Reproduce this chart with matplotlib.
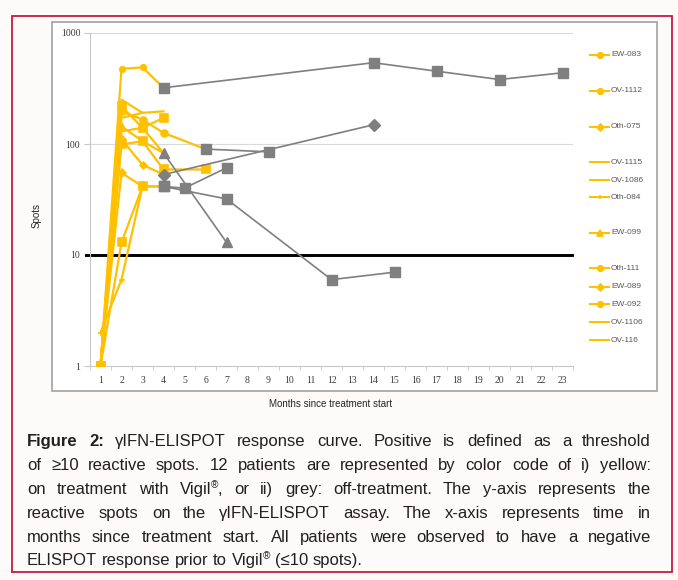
import matplotlib
matplotlib.use('Agg')
import matplotlib.pyplot as plt
from matplotlib.lines import Line2D
from matplotlib.patches import Rectangle

W, H = 678, 580
YEL = '#FFC000'
GREY = '#7F7F7F'
SANS = ['Liberation Sans', 'DejaVu Sans']
SERIF = ['Liberation Serif', 'DejaVu Serif']

# ---------------- data (months since start, reactive spots) ----------------
m_ew083 = [1, 2, 3, 4, 6];              v_ew083 = [1, 99, 106, 59, 59]
m_ov1112 = [1, 2, 3, 4, 6, 9];          v_ov1112 = [1, 197, 166, 126, 90, 85]
m_oth075 = [1, 2, 3, 4, 14, 17, 20, 23]; v_oth075 = [1, 476, 490, 321, 540, 453, 381, 438]
m_ov1115 = [1, 2, 3, 4];                v_ov1115 = [1, 251, 191, 197]
m_ov1086 = [1, 2, 3, 4];                v_ov1086 = [1, 130, 140, 83]
m_oth084 = [1, 2, 3, 4, 14];            v_oth084 = [1, 110, 65, 53, 149]
m_ew099 = [1, 2, 3, 4, 7];              v_ew099 = [1, 144, 106, 83, 13]
m_oth111 = [1, 2, 3, 4];                v_oth111 = [1, 219, 140, 172]
m_ew089 = [1, 2, 3, 4, 5, 7];           v_ew089 = [1, 55, 41.5, 41.5, 40, 61]
m_ew092 = [1, 2, 3, 4, 7, 12, 15];      v_ew092 = [1, 13, 41.5, 41.5, 32, 6, 7]
m_ov1106 = [1, 2, 3];                   v_ov1106 = [1, 172, 191]
m_ov116 = [1, 2, 3];                    v_ov116 = [2, 6, 41.5]

# index of first off-treatment (grey) point, None = on treatment throughout
off_ew083, off_ov1112, off_oth075, off_ov1115 = None, 4, 3, None
off_ov1086, off_oth084, off_ew099, off_oth111 = None, 3, 3, None
off_ew089, off_ew092, off_ov1106, off_ov116 = 3, 3, None, None

legend_names = ['EW-083', 'OV-1112', 'Oth-075', 'OV-1115', 'OV-1086', 'Oth-084',
                'EW-099', 'Oth-111', 'EW-089', 'EW-092', 'OV-1106', 'OV-116']
legend_markers = ['o', 'o', 'D', '', '', '+', '^', 'o', 'D', 'o', '', '']

threshold = 10
x_ticks = list(range(1, 24))
y_ticks = [1, 10, 100, 1000]
y_ticklabels = ['1', '10', '100', '1000']

series = [
    # months, values, off index, yellow marker, yellow ms, grey marker
    (m_ew083, v_ew083, off_ew083, 's', 5.5, 's'),
    (m_ov1112, v_ov1112, off_ov1112, 'o', 5, 's'),
    (m_oth075, v_oth075, off_oth075, 'o', 4, 's'),
    (m_ov1115, v_ov1115, off_ov1115, '', 0, ''),
    (m_ov1086, v_ov1086, off_ov1086, '', 0, ''),
    (m_oth084, v_oth084, off_oth084, 'D', 3.5, 'D'),
    (m_ew099, v_ew099, off_ew099, '^', 4, '^'),
    (m_oth111, v_oth111, off_oth111, 's', 5.5, 's'),
    (m_ew089, v_ew089, off_ew089, 'D', 4, 's'),
    (m_ew092, v_ew092, off_ew092, 's', 5.5, 's'),
    (m_ov1106, v_ov1106, off_ov1106, '', 0, ''),
    (m_ov116, v_ov116, off_ov116, '+', 5, ''),
]

# ---------------- figure ----------------
fig = plt.figure(figsize=(W / 100, H / 100), dpi=100, facecolor='#fdfafa')

def fx(px):
    return px / W

def fy(py):
    return 1 - py / H

# outer crimson frame and chart box (behind the axes)
fig.patches.append(Rectangle((fx(12), fy(572)), (672 - 12) / W, (572 - 16) / H,
                             transform=fig.transFigure, fc='none', ec='#c8173f', lw=1.3, zorder=-10))
fig.patches.append(Rectangle((fx(52), fy(391)), (657 - 52) / W, (391 - 22) / H,
                             transform=fig.transFigure, fc='white', ec='#a8a8a8', lw=1.3, zorder=-9))

ax = fig.add_axes([fx(90), fy(366), (573 - 90) / W, (366 - 33) / H])
ax.set_zorder(1)
ax.set_facecolor('none')
ax.set_yscale('log')
ax.set_ylim(1, 1000)
ax.set_xlim(0.5, 23.5)

for s in ['top', 'right']:
    ax.spines[s].set_visible(False)
for s in ['left', 'bottom']:
    ax.spines[s].set_color('#c8c8c8')
    ax.spines[s].set_linewidth(0.8)

ax.set_yticks(y_ticks)
ax.set_yticklabels(y_ticklabels, family=SERIF, fontsize=7, color='#3a3a3a')
ax.yaxis.set_minor_locator(matplotlib.ticker.NullLocator())
ax.tick_params(axis='y', length=4, color='#c8c8c8', pad=3)
ax.set_xticks(x_ticks)
ax.set_xticklabels([str(t) for t in x_ticks], family=SERIF, fontsize=7, color='#3a3a3a')
ax.set_xticks([t + 0.5 for t in range(0, 24)], minor=True)
ax.tick_params(axis='x', which='major', length=0, pad=7)
ax.tick_params(axis='x', which='minor', length=3, color='#c8c8c8')

for yv in [100, 1000]:
    ax.axhline(yv, color='#d9d9d9', lw=0.8, zorder=1)

ax.plot([0.3, 23.45], [threshold, threshold], color='black', lw=2.1, clip_on=False, zorder=2)

# series
for m, v, off, ym, yms, gm in series:
    end = len(m) if off is None else off + 1
    k = len(m) if off is None else off
    ax.plot(m[:end], v[:end], color=YEL, lw=1.6, zorder=3, solid_joinstyle='round')
    if ym:
        ax.plot(m[:k], v[:k], ls='none', marker=ym, ms=yms, color=YEL,
                mec=YEL, mew=1.2, zorder=3)
for m, v, off, ym, yms, gm in series:
    if off is not None:
        ax.plot(m[off:], v[off:], color=GREY, lw=1.2, zorder=4)
        ax.plot(m[off:], v[off:], ls='none', marker=gm, ms=6.5, color=GREY,
                mec=GREY, zorder=5)

# axis titles
fig.text(fx(37), fy(215), 'Spots', rotation=90, fontsize=7, family=SANS,
         ha='center', va='center', color='#262626')
fig.text(fx(331), fy(404), 'Months since treatment start', fontsize=7, family=SANS,
         ha='center', va='center', color='#262626')

# legend (manual, Excel style)
leg_y = [55, 91, 126.5, 162, 180, 197.5, 232.5, 268, 286.5, 304, 322, 340]
for name, mk, ly in zip(legend_names, legend_markers, leg_y):
    ln = Line2D([fx(590), fx(599.5), fx(609)], [fy(ly)] * 3, transform=fig.transFigure,
                color=YEL, lw=1.5, marker=mk if mk else None, markevery=[1],
                ms=4 if mk in ('o', '^') else 3.5, mew=1.2, mec=YEL, mfc=YEL)
    fig.lines.append(ln)
    fig.text(fx(611), fy(ly), name, fontsize=6, family=SANS, ha='left', va='center',
             color='#595959')

# ---------------- caption (justified) ----------------
cap_lines = [
    "Figure 2: γIFN-ELISPOT response curve. Positive is defined as a threshold",
    "of ≥10 reactive spots. 12 patients are represented by color code of i) yellow:",
    "on treatment with Vigil®, or ii) grey: off-treatment. The y-axis represents the",
    "reactive spots on the γIFN-ELISPOT assay. The x-axis represents time in",
    "months since treatment start. All patients were observed to have a negative",
    "ELISPOT response prior to Vigil® (≤10 spots).",
]
cap_baselines = [446, 470, 494, 518, 542, 565]
CAP_SIZE = 12.0
CAP_L, CAP_R = 27, 651
CAP_COLOR = '#231f20'

renderer = fig.canvas.get_renderer()

def measure(txt, weight, size):
    t = fig.text(0, 0, txt, fontsize=size, weight=weight, family=SANS)
    w = t.get_window_extent(renderer).width
    t.remove()
    return w

space_w = measure('a a', 'normal', CAP_SIZE) - measure('aa', 'normal', CAP_SIZE)

def word_segments(word, bold):
    segs = []
    parts = word.split('®')
    for i, p in enumerate(parts):
        if p:
            segs.append((p, 'bold' if bold else 'normal', CAP_SIZE, 0))
        if i < len(parts) - 1:
            segs.append(('®', 'normal', CAP_SIZE * 0.6, -5.5))
    return segs

for li, (line, base) in enumerate(zip(cap_lines, cap_baselines)):
    words = line.split(' ')
    wsegs = []
    for wi, w in enumerate(words):
        bold = (li == 0 and wi < 2)
        wsegs.append(word_segments(w, bold))
    widths = [sum(measure(s[0], s[1], s[2]) for s in segs) for segs in wsegs]
    if li < len(cap_lines) - 1 and len(words) > 1:
        gap = (CAP_R - CAP_L - sum(widths)) / (len(words) - 1)
    else:
        gap = space_w
    x = CAP_L
    for segs, wwid in zip(wsegs, widths):
        sx = x
        for txt, weight, size, dy in segs:
            fig.text(round(sx) / W, fy(base + dy), txt, fontsize=size, weight=weight,
                     family=SANS, ha='left', va='baseline', color=CAP_COLOR)
            sx += measure(txt, weight, size)
        x += wwid + gap

fig.savefig('out.png', dpi=100, facecolor=fig.get_facecolor())
